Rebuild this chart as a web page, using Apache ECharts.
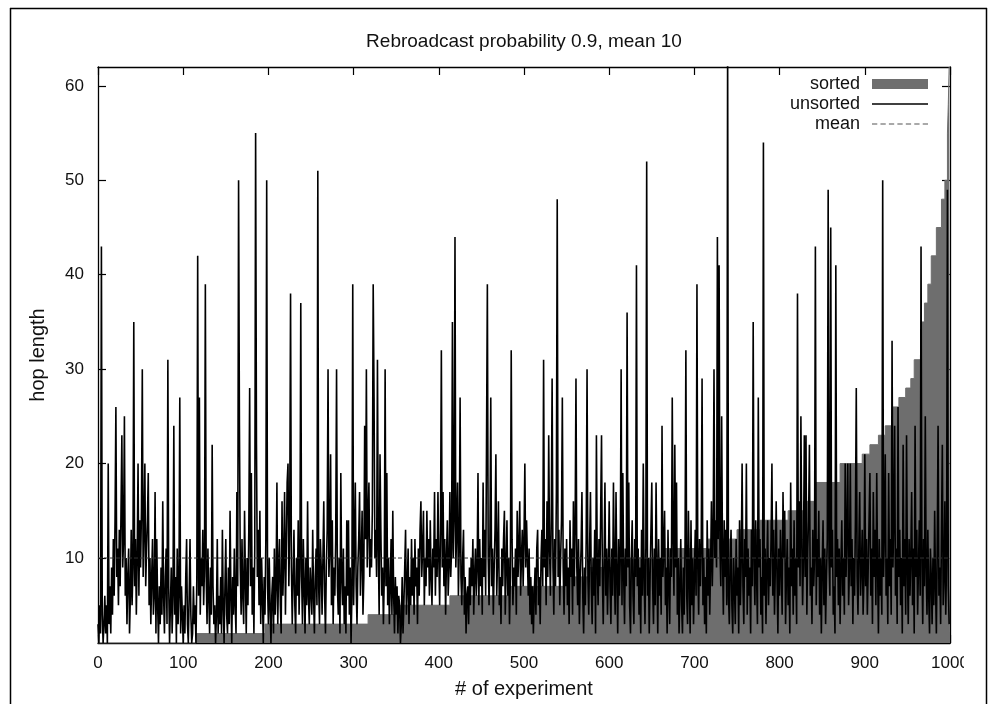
<!DOCTYPE html>
<html><head><meta charset="utf-8">
<script src="https://cdn.jsdelivr.net/npm/echarts@6/dist/echarts.min.js"></script>
<style>html,body{margin:0;padding:0;background:#fff}#c{width:990px;height:704px}</style>
</head><body><div id="c"></div>
<script>
const titleText = 'Rebroadcast probability 0.9, mean 10';
const xName = '# of experiment';
const yName = 'hop length';
const seriesNames = ['sorted', 'unsorted', 'mean'];
const yTicks = [10, 20, 30, 40, 50, 60];
const xMin = 0, xMax = 1000, xStep = 100;
const yMin = 1, yMax = 62;
const meanValue = 10;

// sorted: step runs (first experiment index of each run, and its hop length)
const sortedStart = [0,115,196,317,355,413,481,554,576,611,665,716,750,777,810,828,842,871,897,906,916,924,932,940,948,954,958,966,970,974,978,984,990,994,997,998,999];
const sortedLevel = [1,2,3,4,5,6,7,8,9,10,11,12,13,14,15,16,18,20,21,22,23,24,26,27,28,29,31,35,37,39,42,45,48,50,55,58,62];

// unsorted: hop length of each experiment 0..999
const unsorted = [
3,1,5,2,43,4,1,3,6,2,5,1,20,3,7,2,9,4,12,6,14,26,8,11,5,13,7,15,23,9,12,25,6,10,3,8,11,2,6,13,5,9,35,7,12,4,10,20,6,14,
9,15,30,8,13,20,7,11,14,19,5,10,3,8,12,4,6,17,2,12,5,1,7,3,9,4,16,6,2,8,11,3,31,7,1,5,9,2,6,24,4,8,1,11,3,6,27,2,7,4,
1,5,2,8,12,3,1,6,12,4,1,2,7,3,5,1,8,42,6,27,4,10,7,13,5,9,39,8,3,11,6,2,9,4,22,7,3,5,1,4,12,2,6,3,8,2,13,5,1,7,
12,4,2,9,3,15,6,1,8,4,11,5,2,17,7,50,24,9,4,12,6,3,15,8,2,10,5,13,28,7,19,4,9,2,11,55,22,8,13,5,15,3,10,6,1,8,4,12,50,7,
3,10,5,1,6,8,2,11,4,7,18,3,9,12,5,2,16,6,10,17,4,11,18,20,7,13,38,9,3,8,13,5,2,10,6,14,4,9,37,8,3,12,7,2,10,5,16,6,3,9,
9,4,13,6,2,8,11,5,51,7,3,12,9,4,10,16,6,2,9,13,30,8,11,21,5,14,3,9,6,12,30,7,4,10,2,19,8,5,11,3,7,2,14,6,14,4,9,1,6,39,
5,11,18,7,3,9,12,17,6,10,15,4,8,24,12,30,9,14,18,8,12,9,15,39,27,10,13,8,31,11,4,21,13,6,9,3,8,30,7,19,5,10,3,7,12,4,15,6,2,8,
4,7,2,6,5,1,3,8,2,5,9,13,4,7,11,3,8,5,12,6,10,4,12,7,9,3,11,6,13,16,8,11,15,5,10,7,15,9,12,6,14,8,5,11,9,17,6,12,8,17,
10,5,13,32,9,17,7,12,4,10,14,6,9,17,8,11,35,10,14,44,9,13,18,6,11,27,8,5,10,13,4,8,2,6,7,3,9,5,10,7,12,4,8,11,6,9,19,5,12,7,
10,4,18,8,13,6,22,39,10,5,12,27,7,11,4,9,13,21,6,10,16,5,8,3,11,7,12,15,4,9,14,6,10,3,8,32,12,5,9,7,11,4,15,8,11,16,6,10,13,7,
12,20,9,14,10,6,11,4,8,3,7,2,6,9,4,11,13,5,8,3,10,13,7,31,9,12,5,16,8,23,11,6,14,29,9,4,12,7,17,48,8,13,5,10,14,27,9,4,11,7,
12,5,9,3,14,8,11,4,16,7,13,29,9,5,12,3,8,11,17,6,2,9,5,12,30,8,4,11,17,7,3,10,6,13,2,23,9,5,12,7,15,23,8,3,10,18,6,11,4,9,
16,7,3,11,6,18,9,4,17,8,2,12,6,10,30,5,19,8,3,11,7,36,9,18,5,2,10,14,6,3,12,8,41,7,11,4,9,2,13,6,20,8,3,11,52,6,10,2,8,13,
18,7,3,11,5,18,9,2,12,6,10,4,24,8,11,15,5,9,2,13,7,3,11,8,27,12,6,22,9,18,4,10,2,7,12,5,2,9,4,11,32,6,3,15,8,2,14,5,10,3,
8,13,6,39,9,4,12,7,11,29,5,10,3,8,2,14,6,11,4,9,16,7,12,30,10,14,9,44,12,41,11,7,25,10,4,14,8,13,5,65,6,3,9,13,5,2,10,7,3,12,
6,9,2,14,5,10,20,7,3,12,8,20,4,11,6,9,2,13,7,35,10,5,14,8,3,27,9,12,4,8,2,54,6,11,3,9,14,5,10,7,12,20,6,13,4,9,16,8,2,11,
6,13,9,4,17,10,15,3,8,12,5,9,2,18,7,11,4,14,6,10,3,38,9,16,7,25,12,5,10,23,8,23,4,11,14,22,6,9,3,13,7,10,43,5,12,8,15,4,10,2,
9,14,5,11,3,8,12,49,10,6,45,9,13,4,7,2,41,8,12,5,11,3,9,14,6,10,4,20,8,13,20,5,9,20,7,12,3,10,6,14,28,8,4,11,17,6,9,13,4,8,
21,7,12,4,9,14,19,6,11,3,17,8,13,5,19,9,2,12,6,10,4,50,8,13,21,6,10,3,19,7,12,4,33,9,14,24,6,11,3,26,8,13,5,10,2,22,7,12,4,23,
9,3,12,6,10,17,5,11,2,24,8,13,4,9,14,6,43,10,3,12,7,25,9,4,13,6,2,11,8,3,10,5,15,7,2,11,24,6,9,3,13,22,5,8,16,4,10,49,7,3
];

const FONT = '"Liberation Sans", Arial, Helvetica, sans-serif';
const GRAY = '#6e6e6e';
const INK = '#111';
const DASH_ICON = 'path://M0,0h5v1h-5zM8,0h5v1h-5zM16,0h5v1h-5zM24,0h5v1h-5zM32,0h5v1h-5zM40,0h5v1h-5zM48,0h5v1h-5z';

const sortedPoints = sortedStart.map((s, k) => [s, sortedLevel[k]]);
sortedPoints.push([xMax, sortedLevel[sortedLevel.length - 1]]);
const unsortedPoints = unsorted.map((v, i) => [i, v]);
const meanPoints = [[xMin, meanValue], [xMax, meanValue]];

const axisLine = { show: true, onZero: false, lineStyle: { color: '#000', width: 1.3 } };
const tick = { show: true, inside: true, length: 8, lineStyle: { color: '#000', width: 1.2 } };
const label = { fontSize: 17, color: INK, fontFamily: FONT, formatter: v => String(v) };

const legendIcons = ['rect', 'rect', DASH_ICON];
const legendHeights = [10, 1.5, 1.5];

const chart = echarts.init(document.getElementById('c'), null, { renderer: 'canvas' });
chart.setOption({
  animation: false,
  backgroundColor: '#fff',
  title: {
    text: titleText, left: 524, top: 32, textAlign: 'center', padding: 0,
    textStyle: { fontSize: 19, fontWeight: 'normal', color: INK, fontFamily: FONT }
  },
  grid: { left: 98, right: 40, top: 67, bottom: 61, containLabel: false },
  legend: seriesNames.map((n, k) => ({
    data: [{ name: n, icon: legendIcons[k] }],
    orient: 'vertical', right: 62, top: 75 + 20 * k, padding: 0,
    align: 'right', itemWidth: 56, itemHeight: legendHeights[k], selectedMode: false,
    textStyle: { fontSize: 18, color: INK, fontFamily: FONT, padding: [0, 7, 0, 0] }
  })),
  xAxis: [
    { type: 'value', min: xMin, max: xMax, interval: xStep, position: 'bottom',
      axisLine, axisTick: tick, splitLine: { show: false },
      axisLabel: Object.assign({ margin: 12 }, label),
      name: xName, nameLocation: 'middle', nameGap: 36,
      nameTextStyle: { fontSize: 20, color: INK, fontFamily: FONT } },
    { type: 'value', min: xMin, max: xMax, interval: xStep, position: 'top',
      axisLine, axisTick: tick, splitLine: { show: false }, axisLabel: { show: false } }
  ],
  yAxis: [
    { type: 'value', min: yMin, max: yMax, position: 'left',
      axisLine, axisTick: Object.assign({ customValues: yTicks }, tick), splitLine: { show: false },
      axisLabel: Object.assign({ customValues: yTicks, margin: 14 }, label),
      name: yName, nameLocation: 'middle', nameGap: 50,
      nameTextStyle: { fontSize: 20, color: INK, fontFamily: FONT } },
    { type: 'value', min: yMin, max: yMax, position: 'right',
      axisLine, axisTick: Object.assign({ customValues: yTicks }, tick), splitLine: { show: false },
      axisLabel: { show: false } }
  ],
  series: [
    { name: seriesNames[0], type: 'line', step: 'end', data: sortedPoints, symbol: 'none',
      lineStyle: { color: GRAY, width: 1 }, itemStyle: { color: GRAY },
      areaStyle: { color: GRAY, opacity: 1, origin: 'start' }, z: 1 },
    { name: seriesNames[1], type: 'line', data: unsortedPoints, symbol: 'none', sampling: null,
      lineStyle: { color: '#000', width: 1.6 }, itemStyle: { color: '#000' }, z: 2 },
    { name: seriesNames[2], type: 'line', data: meanPoints, symbol: 'none',
      lineStyle: { color: '#333', width: 1, type: [4, 2] }, itemStyle: { color: '#555' }, z: 3 }
  ],
  graphic: [
    { type: 'rect', z: 100, shape: { x: 964, y: 648, width: 22, height: 50 }, style: { fill: '#fff' } },
    { type: 'line', z: 100, shape: { x1: 10.5, y1: 8, x2: 10.5, y2: 704 }, style: { stroke: '#000', lineWidth: 1.5 } },
    { type: 'line', z: 100, shape: { x1: 10, y1: 8.5, x2: 987, y2: 8.5 }, style: { stroke: '#000', lineWidth: 1.5 } },
    { type: 'line', z: 100, shape: { x1: 986.5, y1: 8, x2: 986.5, y2: 704 }, style: { stroke: '#000', lineWidth: 1.5 } }
  ]
});
</script>
</body></html>
